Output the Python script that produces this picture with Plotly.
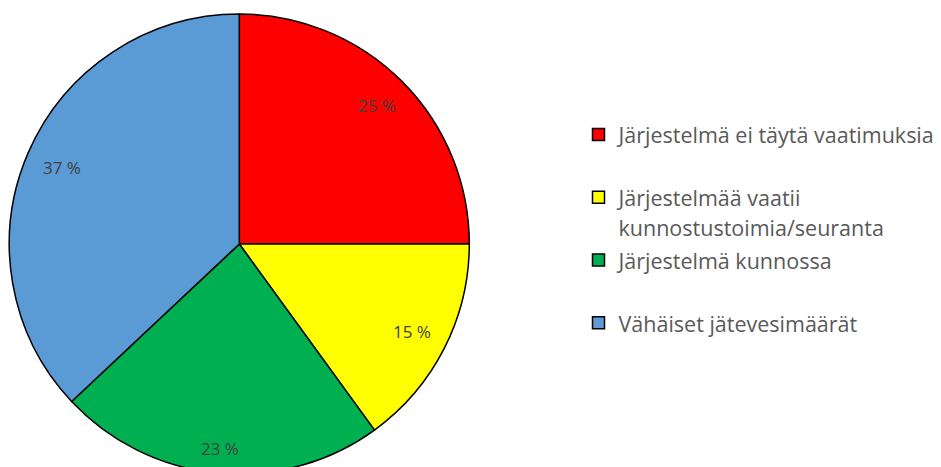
import math

import plotly.graph_objects as go

# slices, clockwise from 12 o'clock
labels = [
    "Järjestelmä ei täytä vaatimuksia",
    "Järjestelmää vaatii<br>kunnostustoimia/seuranta",
    "Järjestelmä kunnossa",
    "Vähäiset jätevesimäärät",
]
values = [25, 15, 23, 37]
colors = ["#FF0000", "#FFFF00", "#00B050", "#5B9BD5"]
# extra empty line under the one-line entries, as spacing in the legend
pad_lines = [1, 0, 1, 0]

FONT = "Open Sans, Lato, sans-serif"
W, H = 941, 467
TOP, BOTTOM = 6, 1
PH = H - TOP - BOTTOM
R = PH / 2
CX, CY = 231.3, TOP + R

legend_names = [
    f'<span style="font-size:21.5px">{lab}</span>' + "<br> " * n
    for lab, n in zip(labels, pad_lines)
]

fig = go.Figure()
fig.add_trace(go.Pie(
    labels=legend_names,
    values=values,
    sort=False,
    direction="clockwise",
    rotation=0,
    marker={"colors": colors, "line": {"color": "#000000", "width": 1.5}},
    textinfo="none",
    hoverinfo="percent",
    domain={"x": [(CX - R) / W, (CX + R) / W], "y": [0, 1]},
))

# percentage labels placed near the rim, like Excel's best fit
total = sum(values)
start = 0.0
hw, hh = 20, 8
for v in values:
    mid = (start + v / 2) / total * 2 * math.pi
    start += v
    s, c = math.sin(mid), math.cos(mid)
    d = 0.935 * R - (hw * abs(s) + hh * abs(c))
    px = CX + d * s
    py = CY - d * c
    fig.add_annotation(
        x=px / W, y=(H - BOTTOM - py) / PH, xref="paper", yref="paper",
        xanchor="center", yanchor="middle",
        text=f"{round(v / total * 100)} %", showarrow=False,
        font={"family": FONT, "size": 17, "color": "#404040"},
    )

fig.update_layout(
    width=W, height=H,
    margin={"l": 0, "r": 0, "t": TOP, "b": BOTTOM},
    paper_bgcolor="white",
    plot_bgcolor="white",
    showlegend=True,
    legend={
        "x": 570.5 / W, "xanchor": "left",
        "y": (H - BOTTOM - 105) / PH, "yanchor": "top",
        "valign": "top",
        "font": {"family": FONT, "size": 23, "color": "#595959"},
        "bgcolor": "rgba(0,0,0,0)",
    },
)

fig.write_html("out.html")
